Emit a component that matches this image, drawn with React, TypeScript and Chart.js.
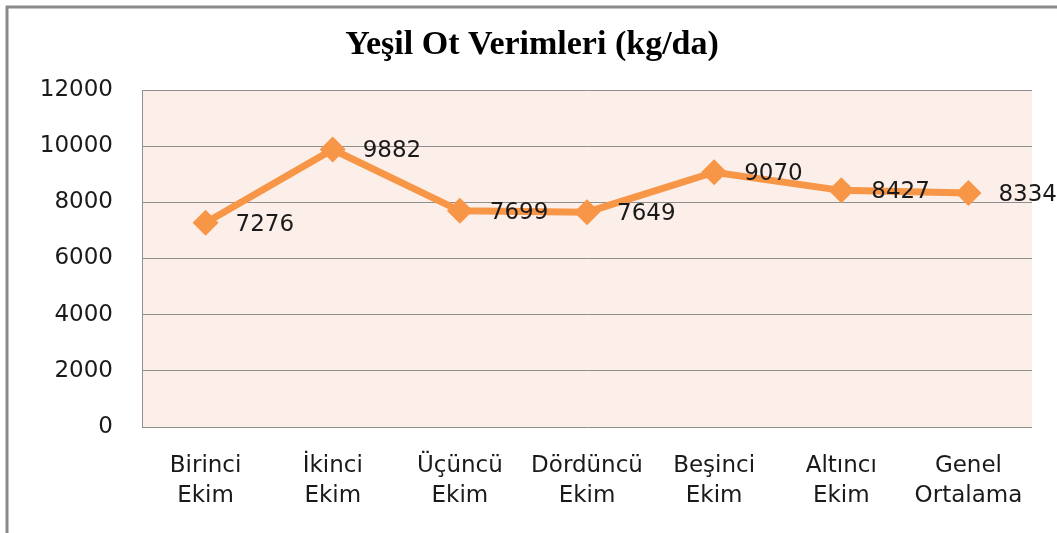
import React, { useEffect, useRef } from "react";
import { Chart, registerables } from "chart.js";

Chart.register(...registerables);

const categories: string[][] = [
  ["Birinci", "Ekim"],
  ["İkinci", "Ekim"],
  ["Üçüncü", "Ekim"],
  ["Dördüncü", "Ekim"],
  ["Beşinci", "Ekim"],
  ["Altıncı", "Ekim"],
  ["Genel", "Ortalama"],
];
const yieldValues: number[] = [7276, 9882, 7699, 7649, 9070, 8427, 8334];
const titleText = "Yeşil Ot Verimleri (kg/da)";
const yMin = 0;
const yMax = 12000;
const yStep = 2000;

const W = 1057;
const H = 533;

export default function App() {
  const ref = useRef<HTMLCanvasElement | null>(null);

  useEffect(() => {
    if (!ref.current) return;

    const decor = {
      id: "decor",
      beforeDraw(chart: any) {
        const { ctx, chartArea } = chart;
        ctx.save();
        ctx.fillStyle = "#FCEEE9";
        ctx.fillRect(
          chartArea.left,
          chartArea.top,
          chartArea.right - chartArea.left,
          chartArea.bottom - chartArea.top
        );
        ctx.strokeStyle = "#8a8a8a";
        ctx.lineWidth = 3;
        ctx.beginPath();
        ctx.moveTo(7, H + 5);
        ctx.lineTo(7, 7);
        ctx.lineTo(W + 5, 7);
        ctx.stroke();
        ctx.fillStyle = "#000";
        ctx.font = "bold 34px 'Liberation Serif'";
        ctx.textAlign = "center";
        ctx.textBaseline = "middle";
        ctx.fillText(titleText, 532, 45);
        ctx.restore();
      },
      afterDatasetsDraw(chart: any) {
        const { ctx } = chart;
        const meta = chart.getDatasetMeta(0);
        ctx.save();
        ctx.fillStyle = "#1a1a1a";
        ctx.font = "23px 'DejaVu Sans'";
        ctx.textAlign = "left";
        ctx.textBaseline = "middle";
        meta.data.forEach((pt: any, i: number) => {
          ctx.fillText(String(yieldValues[i]), pt.x + 30, pt.y + 2);
        });
        ctx.restore();
      },
    };

    const chart = new Chart(ref.current, {
      type: "line",
      data: {
        labels: categories,
        datasets: [
          {
            data: yieldValues,
            borderColor: "#F79646",
            backgroundColor: "#F79646",
            borderWidth: 7,
            pointStyle: "rectRot",
            pointRadius: 13,
            pointBorderWidth: 0,
            pointBackgroundColor: "#F79646",
            tension: 0,
          },
        ],
      },
      options: {
        responsive: false,
        animation: false,
        layout: { padding: { top: 90, right: 25, left: 0, bottom: 0 } },
        plugins: {
          legend: { display: false },
          tooltip: { enabled: false },
          title: { display: false },
        },
        scales: {
          x: {
            type: "category",
            offset: true,
            grid: { display: false, drawTicks: false },
            border: { display: false },
            ticks: {
              padding: 24,
              color: "#1a1a1a",
              font: { family: "'DejaVu Sans'", size: 23, lineHeight: 1.3 },
              maxRotation: 0,
              autoSkip: false,
            },
            afterFit: (scale: any) => {
              scale.height = H - 427;
            },
          },
          y: {
            min: yMin,
            max: yMax,
            ticks: {
              stepSize: yStep,
              padding: 29,
              color: "#1a1a1a",
              font: { family: "'DejaVu Sans'", size: 23 },
              callback: (v: any) => String(v),
            },
            grid: { color: "#8f8f8f", lineWidth: 1, drawTicks: false },
            border: { display: true, color: "#8f8f8f", width: 1 },
            afterFit: (scale: any) => {
              scale.width = 142;
            },
          },
        },
      },
      plugins: [decor],
    });

    return () => chart.destroy();
  }, []);

  return (
    <div style={{ position: "absolute", left: 0, top: 0, width: W, height: H, background: "#fff" }}>
      <canvas ref={ref} width={W} height={H} style={{ display: "block" }} />
    </div>
  );
}
